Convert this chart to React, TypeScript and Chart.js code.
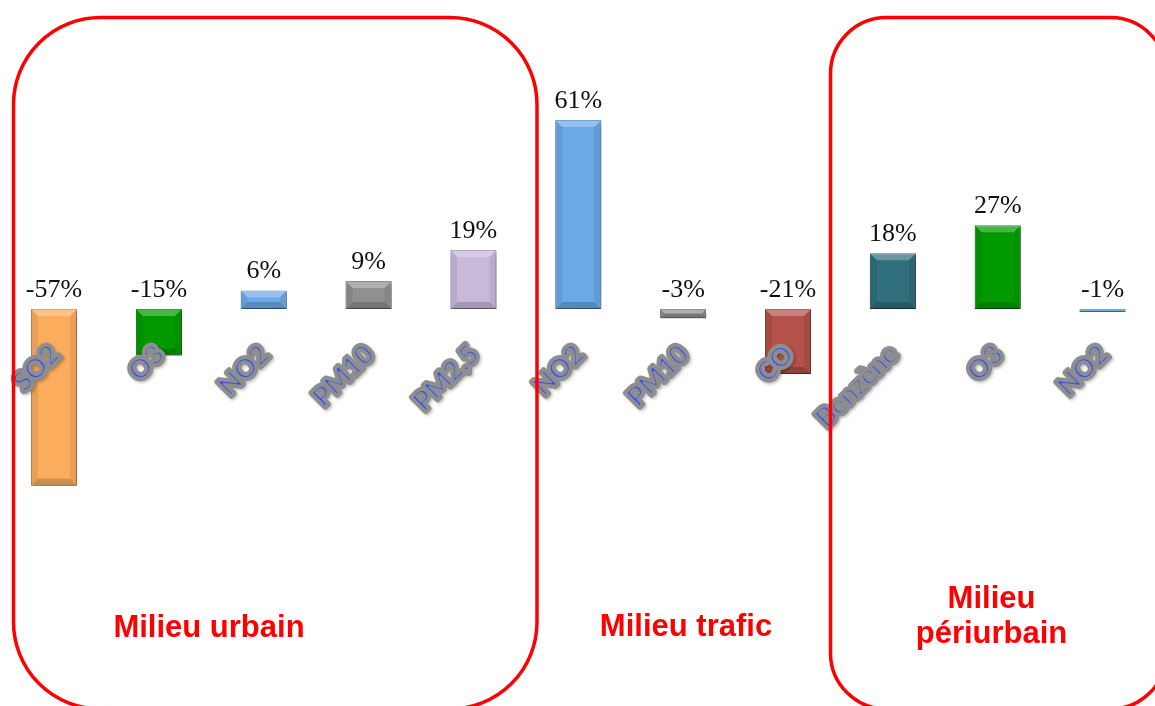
import React, { useEffect, useRef } from "react";
import { Chart, registerables } from "chart.js";

Chart.register(...registerables);

// ---- data ----
const categories = ["SO2", "O3", "NO2", "PM10", "PM2,5", "NO2", "PM10", "CO", "Benzène", "O3", "NO2"];
const changes = [-57, -15, 6, 9, 19, 61, -3, -21, 18, 27, -1];
const barColors = [
  "#FBAC5C", "#009A00", "#6CA9E5", "#909090", "#C8B9DB",
  "#6AA8E6", "#909090", "#B3514A", "#2F6E7B", "#009A00", "#6AA8E6",
];
const barBorders = [
  "#C9864A", "#006F00", "#4A7FB5", "#6A6A6A", "#9A8CAD",
  "#4A7FB5", "#6A6A6A", "#843A35", "#1F4D57", "#006F00", "#4A7FB5",
];
const groupUrbain = ["Milieu urbain"];
const groupTrafic = ["Milieu trafic"];
const groupPeriurbain = ["Milieu", "périurbain"];
const yMin = -128.1;
const yMax = 99.7;

function roundRectPath(ctx: CanvasRenderingContext2D, x: number, y: number, w: number, h: number, r: number) {
  ctx.beginPath();
  ctx.moveTo(x + r, y);
  ctx.lineTo(x + w - r, y);
  ctx.arcTo(x + w, y, x + w, y + r, r);
  ctx.lineTo(x + w, y + h - r);
  ctx.arcTo(x + w, y + h, x + w - r, y + h, r);
  ctx.lineTo(x + r, y + h);
  ctx.arcTo(x, y + h, x, y + h - r, r);
  ctx.lineTo(x, y + r);
  ctx.arcTo(x, y, x + r, y, r);
  ctx.closePath();
}

export default function App() {
  const ref = useRef<HTMLCanvasElement>(null);

  useEffect(() => {
    document.body.style.margin = "0";
    const canvas = ref.current;
    if (!canvas) return;

    const shadowPlugin = {
      id: "barShadow",
      beforeDatasetsDraw(chart: any) {
        const c = chart.ctx;
        c.save();
        c.shadowColor = "rgba(0,0,0,0.35)";
        c.shadowBlur = 5;
        c.shadowOffsetX = 2;
        c.shadowOffsetY = 3;
      },
      afterDatasetsDraw(chart: any) {
        chart.ctx.restore();
      },
    };

    const bevelPlugin = {
      id: "bevel",
      afterDatasetsDraw(chart: any) {
        const c = chart.ctx;
        const meta = chart.getDatasetMeta(0);
        meta.data.forEach((el: any) => {
          const left = el.x - el.width / 2;
          const right = el.x + el.width / 2;
          const top = Math.min(el.y, el.base);
          const bottom = Math.max(el.y, el.base);
          const h = bottom - top;
          const d = Math.min(7, h / 2.2);
          c.save();
          c.fillStyle = "rgba(255,255,255,0.28)";
          c.beginPath();
          c.moveTo(left, top);
          c.lineTo(right, top);
          c.lineTo(right - d, top + d);
          c.lineTo(left + d, top + d);
          c.closePath();
          c.fill();
          c.fillStyle = "rgba(0,0,0,0.18)";
          c.beginPath();
          c.moveTo(left, bottom);
          c.lineTo(right, bottom);
          c.lineTo(right - d, bottom - d);
          c.lineTo(left + d, bottom - d);
          c.closePath();
          c.fill();
          c.fillStyle = "rgba(0,0,0,0.07)";
          c.beginPath();
          c.moveTo(left, top);
          c.lineTo(left + d, top + d);
          c.lineTo(left + d, bottom - d);
          c.lineTo(left, bottom);
          c.closePath();
          c.fill();
          c.beginPath();
          c.moveTo(right, top);
          c.lineTo(right - d, top + d);
          c.lineTo(right - d, bottom - d);
          c.lineTo(right, bottom);
          c.closePath();
          c.fill();
          c.restore();
        });
      },
    };

    const overlayPlugin = {
      id: "overlay",
      afterDraw(chart: any) {
        const c = chart.ctx;
        const meta = chart.getDatasetMeta(0);
        const xs = chart.scales.x;
        const zeroY = chart.scales.y.getPixelForValue(0);
        c.save();
        // category labels, rotated, along the zero line
        c.font = "bold 27px Lato, 'Liberation Sans', sans-serif";
        c.textAlign = "right";
        c.textBaseline = "middle";
        c.lineJoin = "round";
        categories.forEach((label, i) => {
          const px = xs.getPixelForTick(i);
          c.save();
          c.translate(px + 1, zeroY + 41);
          c.rotate(-Math.PI / 4);
          c.shadowColor = "rgba(0,0,0,0.25)";
          c.shadowBlur = 3;
          c.shadowOffsetX = 1.5;
          c.shadowOffsetY = 1.5;
          c.strokeStyle = "#8E8E8E";
          c.lineWidth = 6;
          c.strokeText(label, 0, 0);
          c.shadowColor = "rgba(0,0,0,0)";
          c.fillStyle = "#2F4DFF";
          c.fillText(label, 0, 0);
          c.lineWidth = 2.3;
          c.strokeText(label, 0, 0);
          c.restore();
        });
        // value labels
        c.fillStyle = "#111111";
        c.font = "26px 'Liberation Serif', serif";
        c.textAlign = "center";
        c.textBaseline = "alphabetic";
        meta.data.forEach((el: any, i: number) => {
          const top = Math.min(el.y, el.base);
          c.fillText(changes[i] + "%", el.x, top - 12);
        });
        // group boxes
        c.strokeStyle = "#FF0000";
        c.lineWidth = 3.5;
        roundRectPath(c, 13.5, 17.5, 523.5, 691.5, 87);
        c.stroke();
        roundRectPath(c, 830.5, 17.5, 336, 691.5, 56);
        c.stroke();
        // group names
        c.fillStyle = "#FF0000";
        c.font = "bold 31px 'Liberation Sans', Arial, sans-serif";
        groupUrbain.forEach((t, k) => c.fillText(t, 209, 637 + k * 35));
        groupTrafic.forEach((t, k) => c.fillText(t, 686, 636 + k * 35));
        groupPeriurbain.forEach((t, k) => c.fillText(t, 991.5, 608 + k * 35));
        c.restore();
      },
    };

    const chart = new Chart(canvas, {
      type: "bar",
      data: {
        labels: categories,
        datasets: [
          {
            data: changes,
            backgroundColor: barColors,
            borderColor: barBorders,
            borderWidth: 1,
            borderSkipped: false,
            barPercentage: 0.44,
            categoryPercentage: 1,
          },
        ],
      },
      options: {
        responsive: false,
        maintainAspectRatio: false,
        animation: false,
        layout: { padding: { left: 1.6, right: 0, top: 0, bottom: 0 } },
        plugins: {
          legend: { display: false },
          tooltip: { enabled: false },
          title: { display: false },
        },
        scales: {
          y: { display: false, min: yMin, max: yMax },
          x: { display: false },
        },
      },
      plugins: [shadowPlugin, bevelPlugin, overlayPlugin],
    } as any);

    return () => chart.destroy();
  }, []);

  return (
    <div style={{ width: 1155, height: 706, position: "relative", background: "#ffffff" }}>
      <canvas ref={ref} width={1155} height={706} style={{ display: "block" }} />
    </div>
  );
}
